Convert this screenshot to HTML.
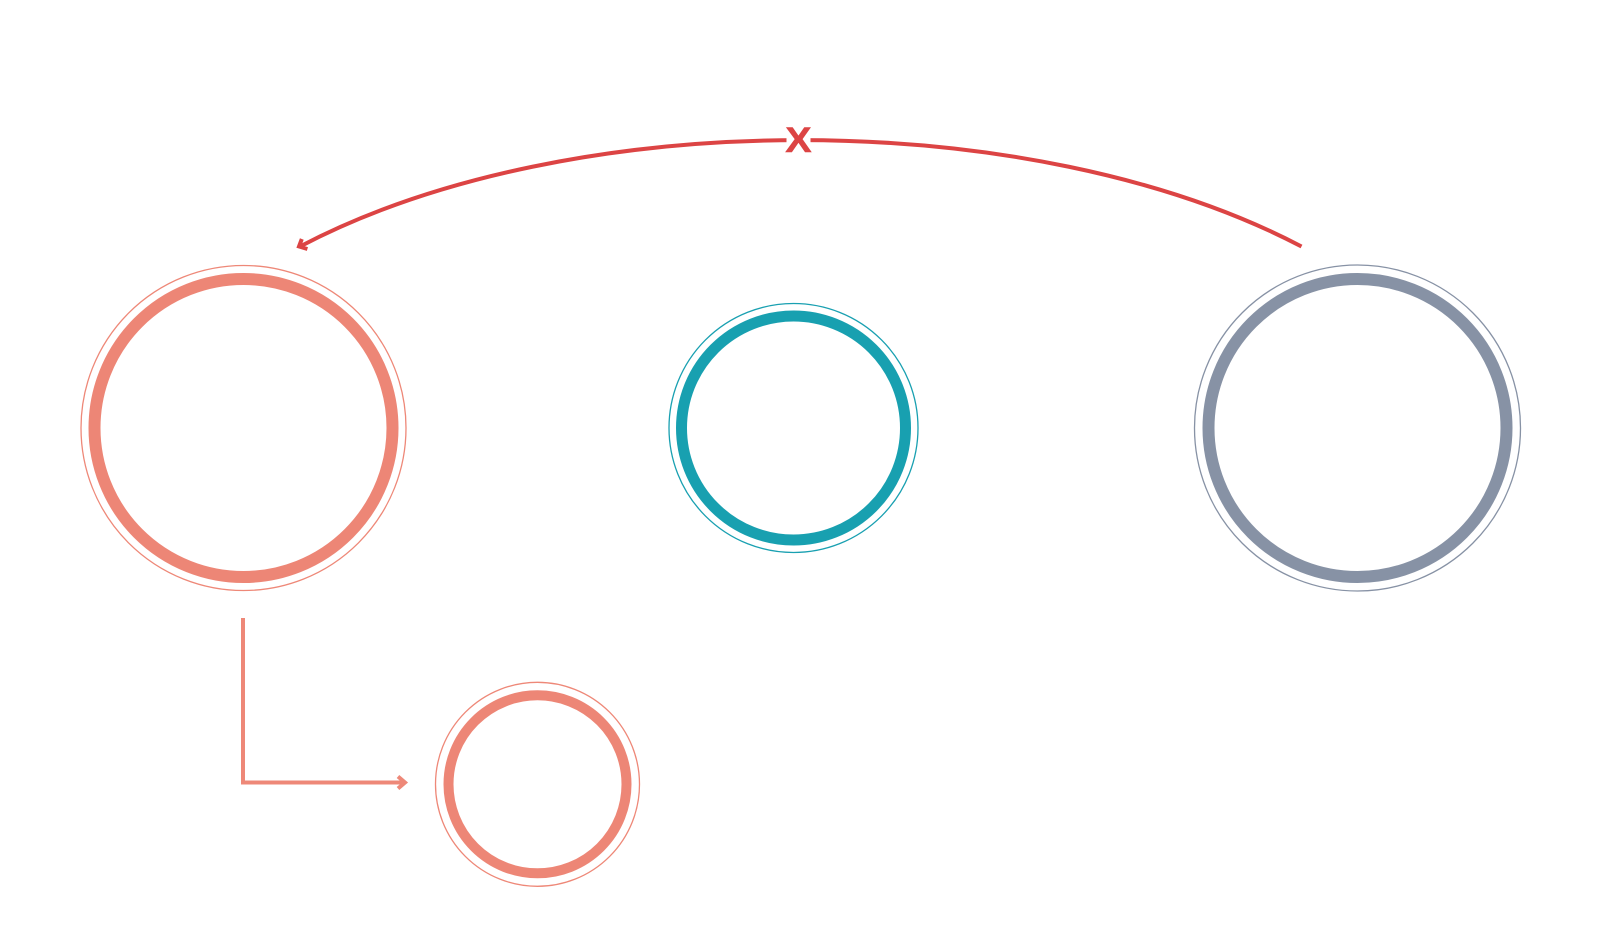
<!DOCTYPE html>
<html>
<head>
<meta charset="utf-8">
<style>
  html, body { margin: 0; padding: 0; background: #ffffff; }
  body { width: 1600px; height: 950px; overflow: hidden; }
  svg { display: block; }
</style>
</head>
<body>
<svg width="1600" height="950" viewBox="0 0 1600 950" xmlns="http://www.w3.org/2000/svg">
  <rect x="0" y="0" width="1600" height="950" fill="#ffffff"/>

  <!-- Circle 1 (salmon, left) -->
  <circle cx="243.5" cy="428" r="162.5" fill="none" stroke="#ee8878" stroke-width="1.3"/>
  <circle cx="243.5" cy="428" r="149" fill="none" stroke="#ed8676" stroke-width="12"/>

  <!-- Circle 2 (teal, middle) -->
  <circle cx="793.5" cy="428" r="124.5" fill="none" stroke="#19a0b1" stroke-width="1.3"/>
  <circle cx="793.5" cy="428" r="112" fill="none" stroke="#18a0b0" stroke-width="11"/>

  <!-- Circle 3 (gray, right) -->
  <circle cx="1357.5" cy="428" r="163" fill="none" stroke="#8792a5" stroke-width="1.3"/>
  <circle cx="1357.5" cy="428" r="149" fill="none" stroke="#8792a5" stroke-width="12"/>

  <!-- Circle 4 (salmon, small bottom) -->
  <circle cx="537.5" cy="784.3" r="102" fill="none" stroke="#ee8878" stroke-width="1.3"/>
  <circle cx="537.5" cy="784.3" r="89" fill="none" stroke="#ed8676" stroke-width="10"/>

  <!-- L connector from circle 1 to circle 4 -->
  <polyline points="243,618 243,782.5 404,782.5" fill="none" stroke="#ee8878" stroke-width="4"/>
  <polyline points="398,776.5 405,782.5 398,788.5" fill="none" stroke="#ee8878" stroke-width="4" stroke-linejoin="miter"/>

  <!-- Red curved arc from right circle to left circle -->
  <path d="M1301.5,246.5 C1031,104.7 570,104.7 300,246.5" fill="none" stroke="#dc4444" stroke-width="4"/>
  <!-- arrowhead at left end -->
  <polyline points="301.8,239 299,246.5 307.4,249" fill="none" stroke="#dc4444" stroke-width="4" stroke-linejoin="miter"/>

  <!-- X mark with gap -->
  <rect x="786.5" y="124" width="24" height="32" fill="#ffffff"/>
  <text x="0" y="0" text-anchor="middle" font-family="Liberation Sans, sans-serif" font-weight="bold" font-size="35" fill="#dc4444" stroke="#dc4444" stroke-width="0.6" transform="translate(798.5,152) scale(1.12,1)">X</text>
</svg>
</body>
</html>
